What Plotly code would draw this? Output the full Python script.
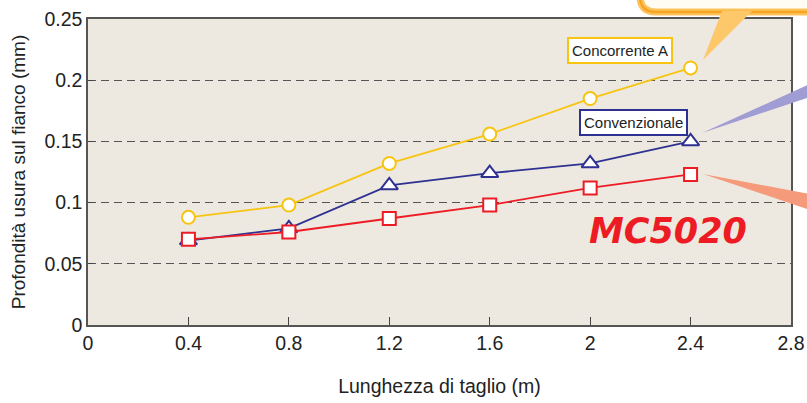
import plotly.graph_objects as go

lunghezza = [0.4, 0.8, 1.2, 1.6, 2.0, 2.4]
concorrente_a = [0.088, 0.098, 0.132, 0.156, 0.185, 0.210]
convenzionale = [0.069, 0.079, 0.114, 0.124, 0.132, 0.150]
mc5020 = [0.070, 0.076, 0.087, 0.098, 0.112, 0.123]

x_ticks = [0, 0.4, 0.8, 1.2, 1.6, 2, 2.4, 2.8]
x_ticklabels = ["0", "0.4", "0.8", "1.2", "1.6", "2", "2.4", "2.8"]
y_ticks = [0, 0.05, 0.1, 0.15, 0.2, 0.25]
y_ticklabels = ["0", "0.05", "0.1", "0.15", "0.2", "0.25"]

W, H = 807, 403
L, R, T, B = 88, 16, 19, 78
PW, PH = W - L - R, H - T - B


def px(x):
    return (x - L) / PW


def py(y):
    return (H - B - y) / PH


FONT = "Arial"

fig = go.Figure()
fig.add_trace(go.Scatter(
    x=lunghezza, y=concorrente_a, mode="lines+markers", name="Concorrente A",
    line=dict(color="#f7c410", width=1.8),
    marker=dict(symbol="circle", size=13, color="white", line=dict(color="#f7c410", width=2)),
))
fig.add_trace(go.Scatter(
    x=lunghezza, y=convenzionale, mode="lines+markers", name="Convenzionale",
    line=dict(color="#2e3192", width=1.8),
    marker=dict(symbol="triangle-up", size=15, color="white", line=dict(color="#2e3192", width=2)),
))
fig.add_trace(go.Scatter(
    x=lunghezza, y=mc5020, mode="lines+markers", name="MC5020",
    line=dict(color="#ed1c24", width=1.8),
    marker=dict(symbol="square", size=13, color="white", line=dict(color="#ed1c24", width=2)),
))

shapes = []
# yellow callout box (top right, partially visible)
x0, x1, y0, y1, r = 640, 840, -40, 12, 16
path = (f"M {px(x0)},{py(y0)} L {px(x0)},{py(y1 - r)} "
        f"Q {px(x0)},{py(y1)} {px(x0 + r)},{py(y1)} L {px(x1)},{py(y1)} "
        f"L {px(x1)},{py(y0)} Z")
shapes.append(dict(type="path", path=path, xref="paper", yref="paper",
                   fillcolor="#fffdf3", line=dict(color="#fcc35e", width=7), layer="above"))
shapes.append(dict(type="path", path=path, xref="paper", yref="paper",
                   fillcolor="rgba(0,0,0,0)", line=dict(color="#f6a623", width=2.5), layer="above"))
# pointer of yellow callout
shapes.append(dict(type="path", xref="paper", yref="paper",
                   path=f"M {px(722)},{py(11)} L {px(752)},{py(11)} L {px(703)},{py(60)} Z",
                   fillcolor="#fdc86a", line=dict(width=0), layer="above"))
# purple wedge
shapes.append(dict(type="path", xref="paper", yref="paper",
                   path=f"M {px(702)},{py(133)} L {px(810)},{py(84)} L {px(810)},{py(97)} Z",
                   fillcolor="#a09cd4", line=dict(width=0), layer="above"))
# salmon wedge
shapes.append(dict(type="path", xref="paper", yref="paper",
                   path=f"M {px(703)},{py(174)} L {px(810)},{py(194)} L {px(810)},{py(210)} Z",
                   fillcolor="#f59b7c", line=dict(width=0), layer="above"))

annotations = [
    dict(x=px(620), y=py(51), xref="paper", yref="paper", text="Concorrente A",
         xanchor="center", yanchor="middle",
         showarrow=False, font=dict(family=FONT, size=15, color="#222"),
         bgcolor="white", bordercolor="#f7c410", borderwidth=2, borderpad=3),
    dict(x=px(633), y=py(122), xref="paper", yref="paper", text="Convenzionale",
         xanchor="center", yanchor="middle",
         showarrow=False, font=dict(family=FONT, size=15, color="#222"),
         bgcolor="white", bordercolor="#2e3192", borderwidth=2, borderpad=3),
    dict(x=px(668), y=py(231), xref="paper", yref="paper", text="<b><i>MC5020</i></b>",
         xanchor="center", yanchor="middle",
         showarrow=False, font=dict(family="DejaVu Sans", size=35, color="#ed1c24")),
]

fig.update_layout(
    width=W, height=H,
    margin=dict(l=L, r=R, t=T, b=B, autoexpand=False),
    paper_bgcolor="white", plot_bgcolor="#ede9e0",
    showlegend=False,
    font=dict(family=FONT, size=16, color="#222"),
    shapes=shapes, annotations=annotations,
    xaxis=dict(range=[0, 2.8], tickvals=x_ticks, ticktext=x_ticklabels, automargin=False,
               ticks="inside", ticklen=8, tickcolor="#444", showgrid=False, zeroline=False,
               showline=True, linecolor="#555", linewidth=1.5, mirror=True,
               tickfont=dict(size=19.5),
               title=dict(text="Lunghezza di taglio (m)", font=dict(size=19.5), standoff=26)),
    yaxis=dict(range=[0, 0.25], tickvals=y_ticks, ticktext=y_ticklabels, automargin=False,
               ticks="inside", ticklen=5, tickcolor="#444",
               showgrid=True, gridcolor="#555", griddash="8px,5px", gridwidth=1.3,
               zeroline=False, showline=True, linecolor="#555", linewidth=1.5, mirror=True,
               tickfont=dict(size=19.5),
               title=dict(text="Profondità usura sul fianco (mm)", font=dict(size=19), standoff=14)),
)

fig.write_html("out.html", config={"displayModeBar": False},
               post_script="document.body.style.margin='0px';")
